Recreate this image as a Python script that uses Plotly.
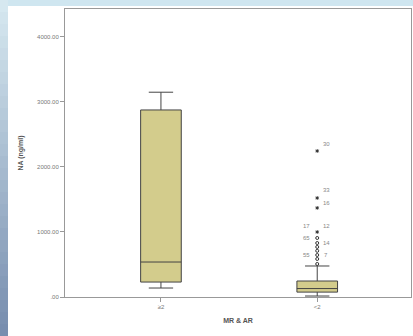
import plotly.graph_objects as go

# ---- data ----
categories = ["\u22652", "<2"]
q1 = [230, 75]
median = [538, 130]
q3 = [2877, 246]
lower_whisker = [138, 15]
upper_whisker = [3150, 477]

outlier_values = [2246, 1523, 1370, 1000, 908, 830, 770, 710, 646, 585, 508]
outlier_kind = ["star", "star", "star", "star", "circle", "circle", "circle", "circle", "circle", "circle", "circle"]
outlier_labels = [("30", 2350, "right"), ("33", 1640, "right"), ("16", 1450, "right"),
                  ("17", 1090, "left"), ("12", 1090, "right"), ("65", 908, "left"),
                  ("14", 830, "right"), ("55", 646, "left"), ("7", 646, "right")]

y_ticks = [0, 1000, 2000, 3000, 4000]
y_tick_labels = [".00", "1000.00", "2000.00", "3000.00", "4000.00"]

W, H = 413, 336
L, R, T, B = 65, 2, 9, 39
pw, ph = W - L - R, H - T - B

fig = go.Figure()
for i, c in enumerate(categories):
    fig.add_trace(go.Box(
        x=[i], q1=[q1[i]], median=[median[i]], q3=[q3[i]],
        lowerfence=[lower_whisker[i]], upperfence=[upper_whisker[i]],
        fillcolor="#d3cc8c", line=dict(color="#444444", width=1),
        width=0.26, whiskerwidth=0.6, boxpoints=False, showlegend=False,
    ))

sym = {"star": "asterisk-open", "circle": "circle-open"}
fig.add_trace(go.Scatter(
    x=[1] * len(outlier_values), y=outlier_values, mode="markers",
    marker=dict(symbol=[sym[k] for k in outlier_kind], size=3,
                color="#333333", line=dict(color="#333333", width=1)),
    showlegend=False,
))
for lab, yv, side in outlier_labels:
    fig.add_annotation(x=1, y=yv, text=lab, showarrow=False,
                       xshift=9 if side == "right" else -11,
                       font=dict(size=6, color="#888888"))

def px_x(p):
    return (p - L) / pw

def px_y(p):
    return (H - B - p) / ph

shapes = []
# white panel
shapes.append(dict(type="rect", xref="paper", yref="paper", x0=px_x(8), x1=px_x(W), y0=px_y(H), y1=px_y(6),
                   fillcolor="white", line=dict(width=0), layer="below"))
# left gradient strip
n = 28
top = (214, 232, 240)
bot = (120, 142, 175)
for k in range(n):
    t = k / (n - 1)
    col = "rgb(%d,%d,%d)" % tuple(int(top[j] + (bot[j] - top[j]) * t) for j in range(3))
    shapes.append(dict(type="rect", xref="paper", yref="paper", x0=px_x(0), x1=px_x(8),
                       y0=px_y(H * (k + 1) / n), y1=px_y(H * k / n), fillcolor=col,
                       line=dict(width=0), layer="below"))

fig.update_layout(
    width=W, height=H, margin=dict(l=L, r=R, t=T, b=B),
    paper_bgcolor="rgb(207,230,240)", plot_bgcolor="#f0f0f0",
    font=dict(family="Liberation Sans", size=6, color="#777777"),
    shapes=shapes,
    xaxis=dict(range=[-0.614, 1.6], tickmode="array", tickvals=[0, 1], ticktext=categories,
               showline=True, linecolor="#999999", linewidth=1, mirror=True,
               ticks="outside", ticklen=4, tickcolor="#999999", showgrid=False, zeroline=False,
               title=dict(text="<b>MR & AR</b>", font=dict(size=7, color="#555555"), standoff=8)),
    yaxis=dict(range=[0, 4430], tickmode="array", tickvals=y_ticks, ticktext=y_tick_labels,
               showline=True, linecolor="#999999", linewidth=1, mirror=True,
               ticks="outside", ticklen=4, tickcolor="#999999", showgrid=False, zeroline=False,
               title=dict(text="<b>NA (ng/ml)</b>", font=dict(size=7, color="#555555"), standoff=12)),
)
fig.write_html("out.html")
